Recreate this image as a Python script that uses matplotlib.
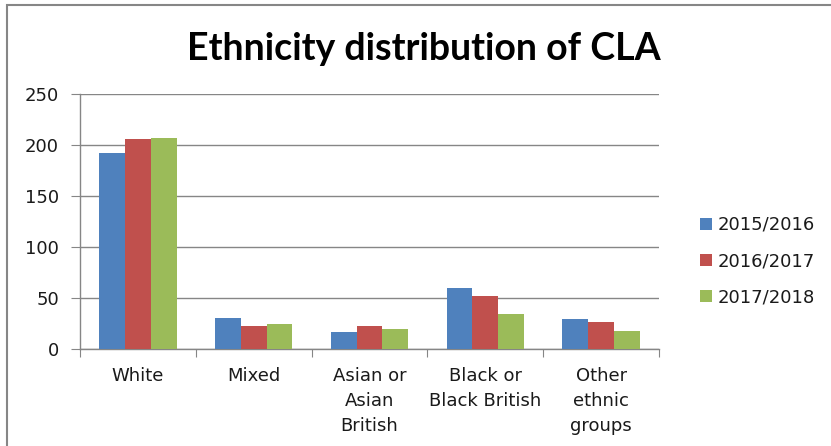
import numpy as np
import matplotlib.pyplot as plt
from matplotlib.patches import Rectangle

plt.rcParams['font.family'] = ['DejaVu Sans']

categories = ['White', 'Mixed', 'Asian or\nAsian\nBritish', 'Black or\nBlack British', 'Other\nethnic\ngroups']
years = ['2015/2016', '2016/2017', '2017/2018']
vals_2015 = [192, 30, 17, 60, 29]
vals_2016 = [206, 23, 23, 52, 26]
vals_2017 = [207, 25, 20, 34, 18]
colors = ['#4f81bd', '#c0504d', '#9bbb59']

fig = plt.figure(figsize=(8.31, 4.46), dpi=100)
# chart border (cropped at right/bottom in the reference)
fig.patches.append(Rectangle((7 / 831, -0.1), 2, 1.1 - 5 / 446, transform=fig.transFigure,
                             fill=False, edgecolor='#868686', linewidth=1.5))

ax = fig.add_axes([80 / 831, 1 - 349 / 446, (659 - 80) / 831, (349 - 94) / 446])

x = np.arange(len(categories))
w = 0.223
for i, vals in enumerate([vals_2015, vals_2016, vals_2017]):
    ax.bar(x + (i - 1) * w, vals, w, color=colors[i], label=years[i], zorder=3)

ax.set_xlim(-0.5, len(categories) - 0.5)
ax.set_ylim(0, 250)
ax.set_yticks(range(0, 251, 50))
ax.yaxis.grid(True, color='#868686', linewidth=1)
ax.set_axisbelow(True)

for s in ['top', 'right']:
    ax.spines[s].set_visible(False)
for s in ['left', 'bottom']:
    ax.spines[s].set_color('#868686')
    ax.spines[s].set_linewidth(1)

ax.set_xticks(np.arange(-0.5, len(categories), 1))
ax.set_xticklabels([])
ax.set_xticks(x, minor=True)
ax.set_xticklabels(categories, minor=True, fontsize=13, linespacing=1.5, color='#1a1a1a')
ax.tick_params(axis='x', which='minor', length=0, pad=13)
ax.tick_params(axis='x', which='major', length=6, color='#868686')
ax.tick_params(axis='y', length=6.5, color='#868686', labelsize=13, pad=8.6, labelcolor='#1a1a1a')

fig.suptitle('Ethnicity distribution of CLA', x=424 / 831, y=1 - 49 / 446, va='center',
             fontsize=27, fontweight='bold', family='Lato')

ax.legend(loc='center left', bbox_to_anchor=(684 / 831, 1 - 261 / 446),
          bbox_transform=fig.transFigure, frameon=False, fontsize=13,
          handlelength=0.65, handleheight=0.65, handletextpad=0.3, labelspacing=1.0,
          labelcolor='#1a1a1a')

fig.savefig('out.png', dpi=100)
